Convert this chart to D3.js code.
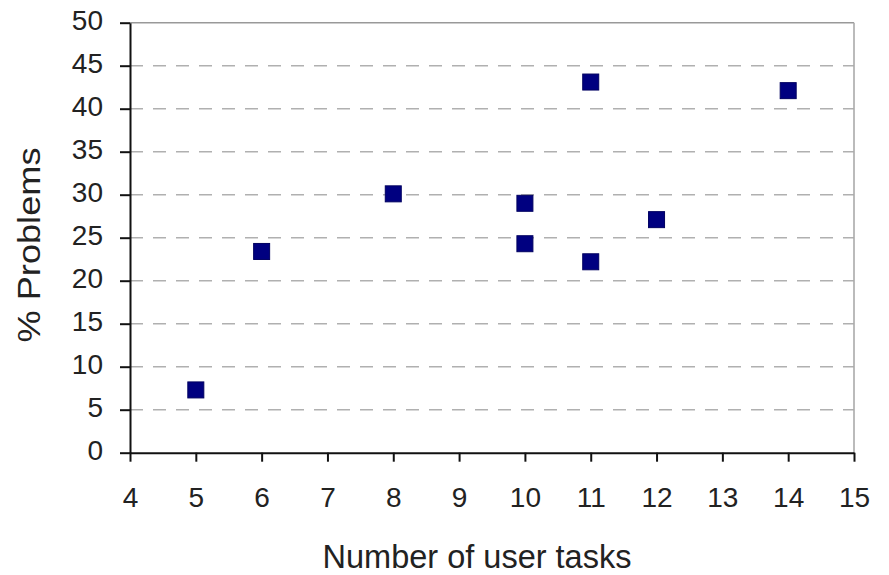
<!DOCTYPE html>
<html><head><meta charset="utf-8">
<script src="https://cdn.jsdelivr.net/npm/d3@7"></script>
<style>body{margin:0;background:#fff;} svg{display:block;}</style>
</head><body><svg id="c" width="889" height="575"></svg>
<script>
const tasks = [5, 6, 8, 10, 10, 11, 11, 12, 14];
const problems = [7.3, 23.4, 30.1, 29.0, 24.3, 22.2, 43.1, 27.1, 42.1];
const xTicks = [4,5,6,7,8,9,10,11,12,13,14,15];
const yTicks = [0,5,10,15,20,25,30,35,40,45,50];
const xTitle = "Number of user tasks";
const yTitle = "% Problems";

const svg = d3.select("#c");
const L = 130, R = 854, T = 22.7, B = 452.7;
const x = d3.scaleLinear().domain([4,15]).range([L,R]);
const y = d3.scaleLinear().domain([0,50]).range([B,T]);
const font = "'Liberation Sans', Arial, sans-serif";

// gridlines
svg.append("g").selectAll("line").data(yTicks.filter(d=>d>0 && d<50)).join("line")
  .attr("x1",L).attr("x2",R).attr("y1",d=>y(d)).attr("y2",d=>y(d))
  .attr("stroke","#b0b0b0").attr("stroke-width",1.6).attr("stroke-dasharray","13,10");
// top and right border
svg.append("line").attr("x1",L).attr("x2",R).attr("y1",T).attr("y2",T).attr("stroke","#999").attr("stroke-width",1.6);
svg.append("line").attr("x1",R).attr("x2",R).attr("y1",T).attr("y2",B).attr("stroke","#aaa").attr("stroke-width",1.6);

// axes
const xAxis = svg.append("g").attr("transform",`translate(0,${B})`)
  .call(d3.axisBottom(x).tickValues(xTicks).tickSize(9).tickPadding(25).tickSizeOuter(0));
const yAxis = svg.append("g").attr("transform",`translate(${L},0)`)
  .call(d3.axisLeft(y).tickValues(yTicks).tickSize(10).tickPadding(17).tickSizeOuter(0));
[xAxis,yAxis].forEach(a=>{
  a.select(".domain").attr("stroke","#111").attr("stroke-width",2);
  a.selectAll(".tick line").attr("stroke","#111").attr("stroke-width",2);
  a.selectAll("text").attr("font-family",font).attr("font-size",28).attr("fill","#222");
});
yAxis.selectAll(".tick text").attr("dy","0.32em").attr("y",-2);

// points
const s = 16;
svg.append("g").selectAll("rect").data(tasks.map((t,i)=>[t,problems[i]])).join("rect")
  .attr("x",d=>x(d[0])-s/2).attr("y",d=>y(d[1])-s/2).attr("width",s).attr("height",s)
  .attr("fill","#000080").attr("stroke","#000060").attr("stroke-width",1);

// titles
svg.append("text").attr("x",477).attr("y",568).attr("text-anchor","middle")
  .attr("font-family",font).attr("font-size",32.5).attr("fill","#222").text(xTitle);
svg.append("text").attr("transform","translate(40,245) rotate(-90)").attr("text-anchor","middle")
  .attr("font-family",font).attr("font-size",31).attr("fill","#222")
  .attr("textLength",195).attr("lengthAdjust","spacingAndGlyphs").text(yTitle);
</script></body></html>
